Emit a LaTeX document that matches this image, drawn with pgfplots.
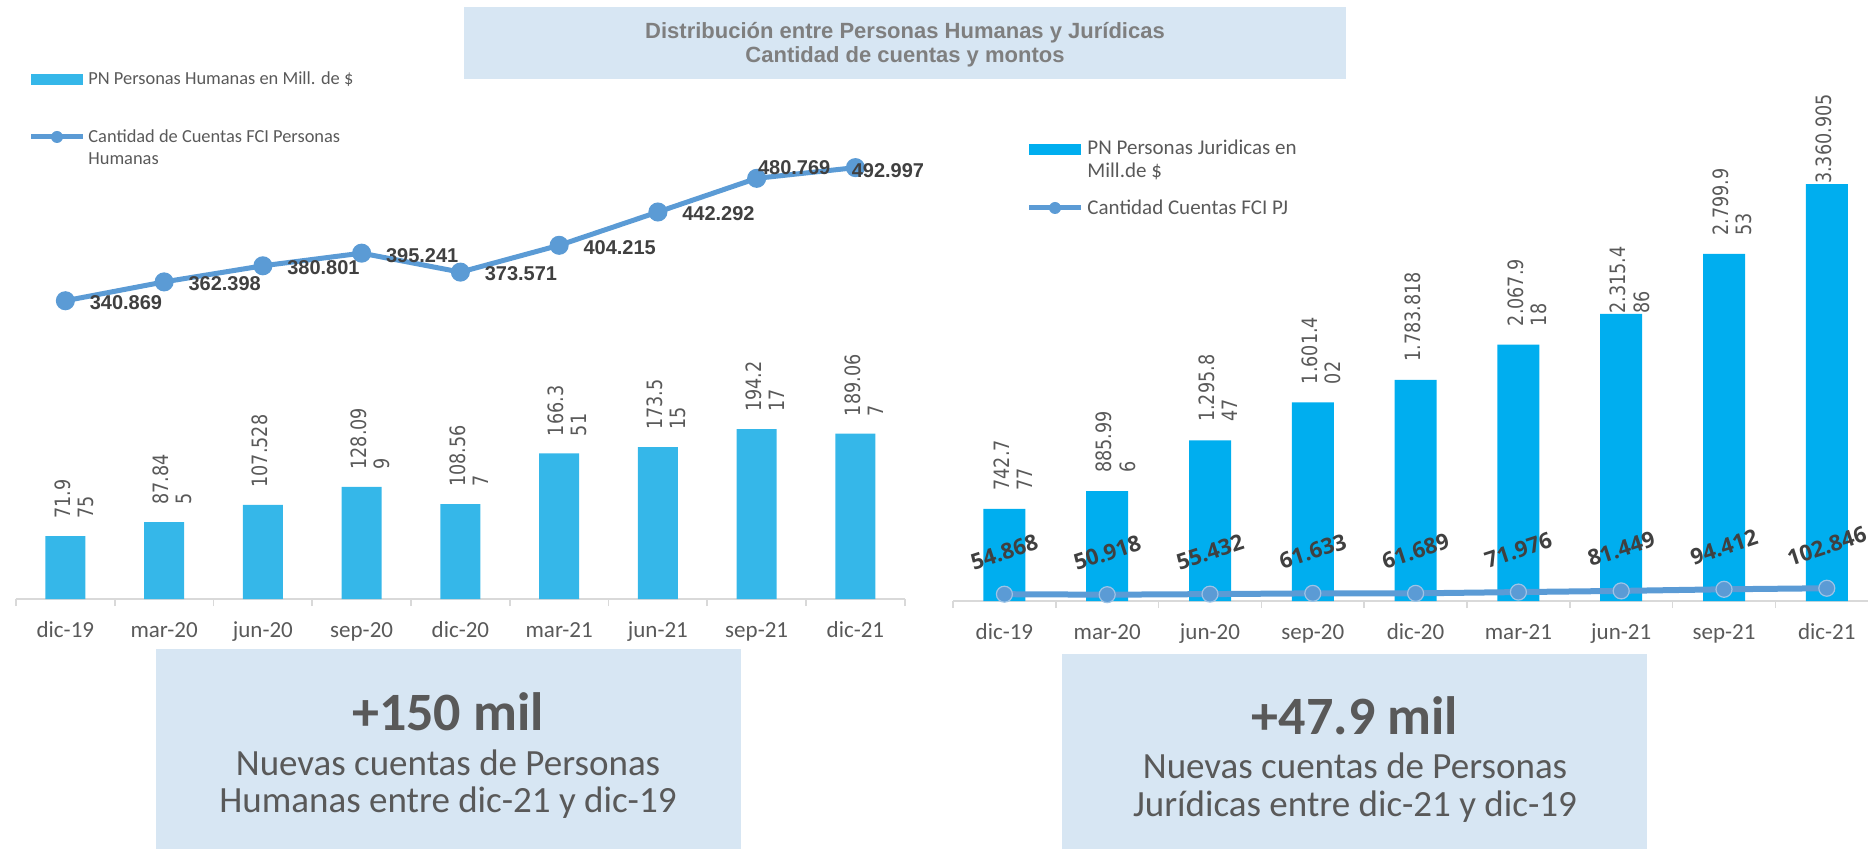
\documentclass[border=0pt]{standalone}
\usepackage{pgfplots}
\pgfplotsset{compat=1.18}
\usepackage{graphicx}
\usepackage{fontspec}
\setmainfont{Carlito}
\newfontfamily\lib{Liberation Sans}
\newfontfamily\dejavu{DejaVu Sans}
\newfontfamily\osans{Open Sans}
\definecolor{barL}{HTML}{35B7E9}
\definecolor{barR}{HTML}{00AEEF}
\definecolor{lineB}{HTML}{5B9BD5}
\definecolor{boxB}{HTML}{D7E6F3}
\definecolor{txtG}{HTML}{595959}
\definecolor{titG}{HTML}{7F7F7F}
\definecolor{darkG}{HTML}{404040}
\definecolor{axG}{HTML}{D9D9D9}
\DeclareRobustCommand{\lb}[2]{\scalebox{1}[1.2]{\begin{tabular}[t]{@{}l@{}}#1\\#2\end{tabular}}}
\pgfplotsset{
  myax/.style={
    scale only axis, anchor=south west, xmin=-0.5, xmax=8.5, ymin=0,
    hide y axis, axis x line*=bottom,
    x axis line style={draw=axG, line width=1pt},
    xtick={0,...,8},
    xticklabels={dic-19,mar-20,jun-20,sep-20,dic-20,mar-21,jun-21,sep-21,dic-21},
    major tick length=0pt, minor xtick={-0.5,0.5,...,8.5}, minor tick length=3.5pt,
    tick align=outside, tick style={draw=axG, line width=0.8pt},
    xticklabel style={font=\fontsize{11.5}{13}\selectfont, text=txtG, anchor=base, yshift=-19pt},
    clip=false,
  },
  barlab/.style={draw=none, mark=none, nodes near coords={\pgfplotspointmeta}, point meta=explicit symbolic,
    nodes near coords style={font=\dejavu\fontsize{8.8}{9.6}\selectfont, text=txtG, inner sep=0pt, yshift=#1, rotate=90, anchor=mid west}},
  linelabL/.style 2 args={draw=none, mark=none, nodes near coords={\pgfplotspointmeta}, point meta=explicit symbolic,
    nodes near coords style={font=\lib\bfseries\fontsize{10}{12}\selectfont, text=darkG, inner sep=0pt, xshift=#1, yshift=#2, anchor=west}},
}
\begin{document}
\begin{tikzpicture}
\useasboundingbox (0,0) rectangle (934pt,-424.5pt);
% title
\fill[boxB] (232pt,-3.5pt) rectangle (673pt,-39.5pt);
\node[anchor=base, inner sep=0pt, text=titG, font=\lib\bfseries\fontsize{11}{12}\selectfont] at (452.5pt,-19.5pt) {Distribución entre Personas Humanas y Jurídicas};
\node[anchor=base, inner sep=0pt, text=titG, font=\lib\bfseries\fontsize{11}{12}\selectfont] at (452.5pt,-31.5pt) {Cantidad de cuentas y montos};
% left legend
\fill[barL] (15.5pt,-37pt) rectangle (41.5pt,-42.5pt);
\node[anchor=base west, inner sep=0pt, text=txtG, font=\fontsize{9.2}{11}\selectfont] at (44pt,-42.5pt) {PN Personas Humanas en Mill. de \$};
\draw[lineB, line width=2.5pt] (15.5pt,-68.5pt) -- (41.5pt,-68.5pt);
\fill[lineB] (28.5pt,-68.5pt) circle (3pt);
\node[anchor=base west, inner sep=0pt, text=txtG, font=\fontsize{9.2}{11}\selectfont] at (44pt,-71.5pt) {Cantidad de Cuentas FCI Personas};
\node[anchor=base west, inner sep=0pt, text=txtG, font=\fontsize{9.2}{11}\selectfont] at (44pt,-82.5pt) {Humanas};
% right legend
\fill[barR] (514.5pt,-72pt) rectangle (540.5pt,-77.5pt);
\node[anchor=base west, inner sep=0pt, text=txtG, font=\fontsize{10.5}{12}\selectfont] at (543.5pt,-77.5pt) {PN Personas Juridicas en};
\node[anchor=base west, inner sep=0pt, text=txtG, font=\fontsize{10.5}{12}\selectfont] at (543.5pt,-89pt) {Mill.de \$};
\draw[lineB, line width=2.5pt] (514.5pt,-104pt) -- (540.5pt,-104pt);
\fill[lineB] (527.5pt,-104pt) circle (3pt);
\node[anchor=base west, inner sep=0pt, text=txtG, font=\fontsize{10.5}{12}\selectfont] at (543.5pt,-107.5pt) {Cantidad Cuentas FCI PJ};
% bottom boxes
\fill[boxB] (78pt,-324.5pt) rectangle (370.5pt,-430pt);
\node[anchor=base, inner sep=0pt, text=txtG, font=\bfseries\fontsize{27}{28}\selectfont] at (224pt,-365.25pt) {+150 mil};
\node[anchor=base, inner sep=0pt, text=txtG, font=\fontsize{18.5}{19}\selectfont] at (224pt,-387.5pt) {Nuevas cuentas de Personas};
\node[anchor=base, inner sep=0pt, text=txtG, font=\fontsize{18.5}{19}\selectfont] at (224pt,-406pt) {Humanas entre dic-21 y dic-19};
\fill[boxB] (531pt,-327pt) rectangle (823.5pt,-430pt);
\node[anchor=base, inner sep=0pt, text=txtG, font=\bfseries\fontsize{27}{28}\selectfont] at (677.5pt,-367.25pt) {+47.9 mil};
\node[anchor=base, inner sep=0pt, text=txtG, font=\fontsize{18.5}{19}\selectfont] at (677.5pt,-389pt) {Nuevas cuentas de Personas};
\node[anchor=base, inner sep=0pt, text=txtG, font=\fontsize{18.5}{19}\selectfont] at (677.5pt,-408pt) {Jurídicas entre dic-21 y dic-19};

% ---------------- left chart
\begin{axis}[myax, at={(8pt,-299.5pt)}, width=444.4pt, height=262.5pt, ymax=600]
\addplot[ybar, bar width=20pt, fill=barL, draw=none] coordinates {
(0,71.975) (1,87.845) (2,107.528) (3,128.099) (4,108.567) (5,166.351) (6,173.515) (7,194.217) (8,189.067)};
\addplot[lineB, line width=2.5pt, mark=*, mark size=3.5pt, mark options={draw=none, fill=lineB}] coordinates {
(0,340.869) (1,362.398) (2,380.801) (3,395.241) (4,373.571) (5,404.215) (6,442.292) (7,480.769) (8,492.997)};
\addplot[barlab=8.5pt] coordinates {
(0,71.975)[\lb{71.9}{75}] (1,87.845)[\lb{87.84}{5}] (2,107.528)[\lb{107.528}{}] (3,128.099)[\lb{128.09}{9}]
(4,108.567)[\lb{108.56}{7}] (5,166.351)[\lb{166.3}{51}] (6,173.515)[\lb{173.5}{15}] (7,194.217)[\lb{194.2}{17}] (8,189.067)[\lb{189.06}{7}]};
\addplot[linelabL={12pt}{-1pt}] coordinates {
(0,340.869)[340.869] (1,362.398)[362.398] (2,380.801)[380.801] (3,395.241)[395.241] (4,373.571)[373.571] (5,404.215)[404.215] (6,442.292)[442.292]};
\addplot[linelabL={0.5pt}{5.5pt}] coordinates {(7,480.769)[480.769]};
\addplot[linelabL={-2pt}{-1.5pt}] coordinates {(8,492.997)[492.997]};
\end{axis}

% ---------------- right chart
\begin{axis}[myax, at={(476.5pt,-300.5pt)}, width=462.6pt, height=263.5pt, ymax=4250]
\addplot[ybar, bar width=21pt, fill=barR, draw=none] coordinates {
(0,742.777) (1,885.996) (2,1295.847) (3,1601.402) (4,1783.818) (5,2067.918) (6,2315.486) (7,2799.953) (8,3360.905)};
\addplot[lineB, line width=3pt, mark=*, mark size=4pt, mark options={draw=lineB!60!white, line width=0.6pt, fill=lineB}] coordinates {
(0,54.868) (1,50.918) (2,55.432) (3,61.633) (4,61.689) (5,71.976) (6,81.449) (7,94.412) (8,102.846)};
\addplot[barlab=9pt] coordinates {
(0,742.777)[\lb{742.7}{77}] (1,885.996)[\lb{885.99}{6}] (2,1295.847)[\lb{1.295.8}{47}] (3,1601.402)[\lb{1.601.4}{02}]
(4,1783.818)[\lb{1.783.818}{}] (5,2067.918)[\lb{2.067.9}{18}] (7,2799.953)[\lb{2.799.9}{53}]};
\addplot[barlab=0pt] coordinates {(6,2315.486)[\lb{2.315.4}{86}] (8,3360.905)[\lb{3.360.905}{}]};
\addplot[draw=none, mark=none, nodes near coords={\pgfplotspointmeta}, point meta=explicit symbolic,
  nodes near coords style={font=\osans\bfseries\fontsize{11}{13}\selectfont, text=darkG, inner sep=0pt, yshift=21pt, rotate=18, anchor=center}] coordinates {
(0,54.868)[54.868] (1,50.918)[50.918] (2,55.432)[55.432] (3,61.633)[61.633] (4,61.689)[61.689] (5,71.976)[71.976] (6,81.449)[81.449] (7,94.412)[94.412] (8,102.846)[102.846]};
\end{axis}
\end{tikzpicture}
\end{document}
